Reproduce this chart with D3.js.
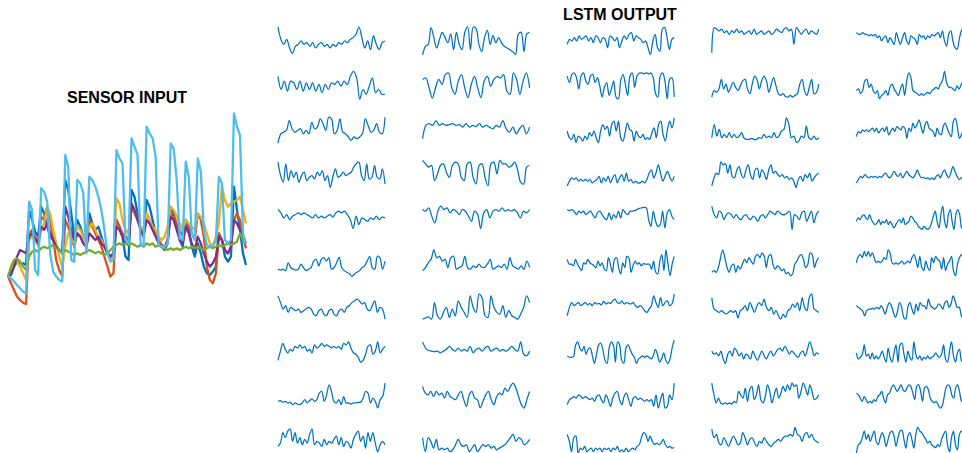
<!DOCTYPE html>
<html>
<head>
<meta charset="utf-8">
<script src="https://cdn.jsdelivr.net/npm/d3@7"></script>
<style>
  html, body { margin: 0; padding: 0; background: #fff; }
  svg { display: block; }
  .title { font-family: "Liberation Sans", Arial, Helvetica, sans-serif; font-weight: bold; font-size: 16px; fill: #000; }
</style>
</head>
<body>
<svg id="chart" width="962" height="453"></svg>
<script>
// ---- Sensor input channels (one sample every time step) ----
const sensorBlue = [14.8,15.6,20,22.6,21.7,21.7,20.8,49.5,44.3,38.2,35.6,51.2,47.7,40.8,35.6,33.9,30.4,28.6,26.9,65.1,59.9,47.7,35.6,44.3,40.8,35.6,33.9,47.7,42.5,39.1,40.8,35.6,30.4,26.9,25.2,26.9,44.3,40.8,35.6,25.2,23.4,59.9,56.4,47.7,39.1,35.6,54.7,51.2,44.3,37.3,32.1,30.4,28.6,32.1,51.2,47.7,40.8,33.9,30.4,44.3,39.1,30.4,25.2,32.1,26.9,20,16.5,15.6,17.4,20,37.3,33.9,25.2,22.6,25.2,61.6,49.5,39.1,26.9,20.8];
const sensorOrange = [14.8,11.3,7.8,4.3,2.6,1.2,0.5,37.3,39.1,35.6,32.1,46,44.3,51.2,44.3,33.9,23.4,18.2,14.8,44.3,40.8,35.6,30.4,37.3,35.6,32.1,30.4,44.3,40.8,37.3,33.9,30.4,25.2,20,14.8,16.5,44.3,40.8,37.3,35.6,33.9,51.2,47.7,44.3,40.8,37.3,47.7,44.3,40.8,37.3,33.9,31.3,30.4,33.9,47.7,46,42.5,39.1,35.6,44.3,40.8,37.3,33.9,47.7,44.3,35.6,20,13,11.3,16.5,37.3,33.9,28.6,26.9,30.4,44.3,47.7,44.3,35.6,29.5];
const sensorYellow = [14.8,18.2,21.7,22.6,20,16.5,13,33.9,35.6,33.9,30.4,39.1,42.5,51.2,47.7,39.1,32.1,25.2,20,30.4,37.3,35.6,32.1,40.8,39.1,35.6,32.1,40.8,42.5,39.1,35.6,33.9,30.4,26.9,23.4,25.2,55.6,52.9,44.3,39.1,37.3,52.9,49.5,44.3,40.8,39.1,47.7,44.3,40.8,39.1,35.6,33.9,35.6,40.8,51.2,49.5,46,42.5,39.1,44.3,42.5,40.8,39.1,47.7,46,42.5,37.3,32.1,30.4,35.6,42.5,61.6,54.7,51.2,52.9,53.8,54.7,56.4,49.5,42.5];
const sensorPurple = [14.8,16.5,20,25.2,28.6,27.8,26.9,35.6,37.3,34.7,32.1,40.8,39.1,42.5,37.3,33.9,30.4,28.6,26.9,51.2,46,39.1,33.9,37.3,35.6,32.1,30.4,37.3,35.6,33.9,35.6,32.1,30.4,26.9,25.2,26.9,40.8,39.1,35.6,32.1,31.3,52.9,49.5,44.3,39.1,35.6,44.3,42.5,39.1,35.6,32.1,30.4,29.5,33.9,46,44.3,39.1,33.9,32.1,40.8,37.3,32.1,28.6,35.6,32.1,26.9,22.6,20,21.7,25.2,35.6,33.9,28.6,26.9,30.4,44.3,42.5,39.1,35.6,32.1];
const sensorGreen = [14.8,20,23.4,24.3,22.6,20,18.2,25.2,27.8,28.6,27.8,29.5,30.4,29.5,30.4,31.3,29.5,28.6,26.9,28.6,27.8,26.9,26,26.9,26,26.9,27.8,28.6,27.8,26.9,27.8,26.9,26,26.9,28.6,30.4,31.3,32.1,31.3,32.1,31.3,32.1,31.3,30.4,31.3,30.4,32.1,31.3,32.1,30.4,31.3,30.4,29.5,28.6,29.5,28.6,29.5,28.6,29.5,30.4,29.5,30.4,29.5,30.4,29.5,28.6,29.5,30.4,29.5,30.4,31.3,30.4,31.3,32.1,31.3,32.1,33,37.3,33.9,32.1];
const sensorCyan = [14.8,13.9,12.2,10.4,8.7,6.9,6.1,53.8,49.5,18.2,15.6,60.8,59,53.8,26.9,17.4,14.8,13,12.2,78.1,72,23.4,22.6,65.1,63.4,58.2,26.9,66.8,65.1,61.6,56.4,49.5,39.1,26.9,22.6,23.4,80.7,76.4,73.8,33.9,32.1,86.8,82.5,78.1,32.1,30.4,92.9,89.4,86.8,77.3,31.3,30.4,30.4,32.1,84.2,81.6,65.1,34.7,33.9,74.7,66.8,37.3,33.9,76.4,69.4,39.1,31.3,30.4,31.3,33,66.8,63.4,33.9,32.1,33.9,99.8,92.9,88.5,37.3,32.1];

const sensorSeries = [
  { values: sensorBlue,   color: "#0072BD" },
  { values: sensorOrange, color: "#D95319" },
  { values: sensorYellow, color: "#EDB120" },
  { values: sensorPurple, color: "#7E2F8E" },
  { values: sensorGreen,  color: "#77AC30" },
  { values: sensorCyan,   color: "#4DBEEE" }
];

// ---- LSTM hidden unit activations, one row of five units at a time ----
const lstmRow1 = [
  [10,5.6,3.8,5.6,2.5,0.6,3.1,3.8,5,3.8,4.4,3.1,4.4,2.5,3.8,4.4,3.1,3.8,2.5,3.8,3.1,4.4,3.8,5,4.4,5.6,6.2,7.5,10,6.2,2.5,5,1.9,6.9,3.8,1.9,4.4,5],
  [0,3.1,3.8,9.8,6.2,2.5,5.6,8.1,6.2,4.4,7.5,1.9,8.1,3.8,1.9,8.1,10,1.9,10,9.4,3.8,1.2,6.2,8.8,3.8,6.9,4.4,6.2,4.4,3.1,2.5,1.9,1.2,0.2,7.5,8.1,1.2,7.5,8.1],
  [3.8,5.6,5,6.2,5,6.8,5.6,6.2,6.8,5,6.2,4.4,6.8,6.2,4.4,6.2,5.6,2.6,6.8,6.2,5,6.2,2.6,5,6.8,5.6,7.4,8,5,6.8,6.2,5.6,4.4,5,2.6,0.2,5,7.4,2.6,1.4,9.2,9.8,6.2,2,5.6,6.2],
  [0.8,9.8,9.2,8.6,9.2,8,8.6,7.4,8.6,8,9.2,8,8.6,7.4,8,8.6,7.4,9.2,7.4,8,8.6,7.4,8,8.6,7.4,8,9.2,8.6,8,9.2,9.8,8.6,9.2,3.8,9.8,8.6,7.4,8.6,9.2,7.4,8.6,8,7.4,9.2],
  [8,7.4,7.4,8,7.4,7.4,6.8,7.4,6.8,7.4,6.2,6.8,5,6.2,6.8,4.4,6.2,5,3.8,8,5.6,3.8,6.2,8,5,3.8,6.8,6.2,5.6,3.8,7.4,6.2,6.8,5.6,6.8,6.2,7.4,6.8,7.4,8,6.2,8.6,5,3.2,7.4,8.6,5,2.6,2,5.6,8.6,9.8]
];
const lstmRow2 = [
  [8.2,3.5,6.5,2.9,6.5,5.9,3.5,6.5,2.9,5.9,3.5,5.9,2.9,5.3,2.4,5.3,3.5,5.9,5.3,6.5,4.7,6.5,5.3,8.2,10,7.6,0,3.5,1.8,4.7,7.6,2.4,3.5,1.8,1.8],
  [7.1,7.6,4.1,0.4,4.1,7.1,5.3,8.8,9.4,4.1,1.8,6.5,8.8,4.1,0.6,5.3,8.2,4.1,0.6,6.5,8.2,4.7,7.1,8.2,7.6,8.8,2.9,1.8,9.4,7.1,1.8,6.5,9.4,4.1],
  [8.3,6,8.9,9.4,7.7,3.7,8.3,9.4,6.6,5.4,8.3,8.9,6,7.7,4.8,0.8,4.3,6,1.4,3.7,6.6,0.8,0.2,6.6,8.9,5.4,1.4,8.3,9.4,4.3,8.3,9.4,9.4,9.1,9.4,9.1,9.4,7.7,2,0.8,8.3,9.4,6.6,0.2,7.1,7.7,0.8],
  [0.8,3.1,2.5,3.7,7.1,3.7,5.4,2.5,4.3,6,4.3,3.1,4.8,6.6,7.1,3.7,2,5.4,8.3,7.1,3.7,6.6,8.3,6.6,2.5,5.4,7.7,4.8,2,1.4,2,1,0.8,1.4,0.8,1.4,2,5.4,7.1,3.1,1.4,4.3,7.1,2,2.5,5.4],
  [3.1,3.7,2,3.1,6.6,7.1,4.3,5.4,3.1,2,3.1,0.2,1.4,2,3.1,1.4,4.3,5.4,3.7,2.5,1.4,3.7,5.4,1.4,6.6,9.4,7.7,3.1,2.5,2,1.4,2,1.4,2,2.5,2,3.1,3.7,4.3,3.7,5.4,6.6,10,6,4.3,4.3,3.7,3.1,4.8,3.7,5.4,6.6]
];
const lstmRow3 = [
  [0.2,3.5,4.1,4.7,8.2,5.3,4.1,4.7,5.3,3.5,4.7,3.5,7.6,5.3,5.9,8.8,7.1,4.7,9.4,8.8,3.5,4.7,8.8,4.1,3.5,2.4,1.2,2.4,1.8,2.4,3.5,8.8,6.5,4.1,4.7,7.1,4.1,3.5,9.4],
  [1.8,6.5,7.1,6.5,8.2,6.5,7.1,6.5,6.8,7.1,6.5,6.8,5.9,7.1,5.9,6.5,6.1,7.1,5.9,6.5,5.9,5.3,6.5,5.9,8.2,5.3,4.1,5.9,3.5,5.3,6.5,3.5,5.9],
  [4.5,2.1,1.5,3.3,0.4,2.7,2.1,0.9,2.7,1.5,3.9,2.7,4.5,2.1,0.4,4.5,6.8,5.1,6.2,2.7,6.8,8,4.5,8,2.1,0.9,3.9,7.4,5.1,4.5,0.9,4.5,2.7,2.1,3.3,1.5,2.1,1.5,3.9,5.6,2.1,6.8,8,3.3,0.9,5.1,8,5.6,9.2],
  [2.1,6.8,2.7,5.1,2.1,3.3,2.1,3.9,2.1,3.3,2.1,2.7,3.9,1.9,1.5,1.5,1.9,1.5,1.5,2.1,1.9,3.3,2.1,2.7,2.1,3.9,2.1,2.7,4.5,5.1,9.2,6.8,2.1,2.7,0.4,0.9,2.7,2.1,6.2,2.1,1.5,2.7,1.5,2.1],
  [2.5,4.3,3.7,4.9,4.3,4.9,4.3,4.9,5.5,4.3,5.5,3.7,4.9,5.5,4.3,6.1,3.1,4.3,5.5,4.3,6.1,5.5,4.9,6.1,5.5,1.9,5.5,4.3,7.3,5.5,6.7,8.5,6.1,3.7,6.7,7.9,5.5,4.9,4.3,2.5,5.5,3.7,3.1,6.1,7.3,5.5,3.7,2.5,7.9,9,6.1,1.9,3.1,4.9]
];
const lstmRow4 = [
  [9.2,4.4,2,8.6,2.6,6.2,3.8,5.6,2,4.4,5.6,2.6,3.8,4.4,3.2,5.6,4.4,6.2,2.6,4.4,0.2,3.8,6.8,3.8,4.4,5.6,4.4,5,5.6,7.4,8.6,9.2,4.4,2.6,8.6,3.2,3.8,8,3.8,3.2,6.8,1.4],
  [9.8,8.6,7.4,8,2.6,5,8,8.6,5.6,3.8,8,9.2,8.6,3.8,2.6,8.6,9.2,3.8,1.4,8,8.6,3.8,0.8,8.6,9.2,5,9.8,8.6,8.6,7.4,8,9.2,6.2,2,1.4,7.4,8],
  [0.7,2.4,3.6,3,3.6,2.4,3,2.4,3,2.4,3,1.8,2.4,3,4.1,1.8,3.6,2.4,4.1,1.8,3.6,4.7,1.8,3.6,4.7,2.4,5.3,2.4,3,1.8,2.4,1.8,1.8,2.4,1.8,3,5.3,6.4,3.6,5.3,8.2,5.3,2.4,4.1,5.9,4.1,2.4,4.1],
  [0.7,3.6,5.3,4.7,9.3,8.2,8.7,5.3,8.2,4.1,3.6,6.4,7.6,4.7,3.6,6.4,8.2,4.7,3,6.4,7,3.6,6.4,5.3,3,6.4,8.2,5.3,5.9,4.7,4.1,4.7,3.6,4.1,3,3.6,2.4,0.1,3,4.1,2.4,4.7,3.6,5.3,2.4,3.6,4.7,5.3],
  [1.8,3,4.1,3.6,4.7,4.1,3.6,4.1,3.8,4.1,3.6,4.1,3.8,4.7,5.3,4.1,3.6,4.7,5.9,4.7,4.1,5.3,3.6,4.7,5.9,4.7,4.1,3.6,4.7,6.4,4.7,3.6,3.8,3.3,3.6,3,3.6,3,4.1,4.7,3.6,5.3,6.4,4.7,3.6,5.3,7.6,5.9,4.1,3,3.6,4.1]
];
const lstmRow5 = [
  [8.1,6.9,5.1,6.3,4.5,5.7,6.3,6.9,6.3,6.9,6.3,5.7,5.1,6.3,5.1,5.7,5.1,5.7,6.3,5.4,6.9,7.5,6.9,7.5,6.3,4.5,1.3,5.7,2.7,5.1,4.5,3.9,5.1,4.5,5.7,4.5,5.4,5.1],
  [8.1,7.5,8.7,5.7,3.3,7.5,9.3,8.1,8.7,6.9,8.1,7.5,6.3,8.1,7.5,5.7,3.9,7.5,6.3,1.3,6.9,8.1,5.1,7.5,8.1,7.5,8.7,7.5,8.1,7.5,8.1,6.9,5.1,7.5,6.9,8.1],
  [8.1,7.7,8.1,7.5,6.3,7.5,6.9,7.5,6.3,6.9,7.5,6.3,5.1,6.9,7.5,6.3,5.1,4.5,6.9,4.5,6.3,5.1,7.5,5.1,8.1,6.9,6.3,7.5,7.5,7.7,8.1,8.5,8.7,8.9,8.7,4.5,2.1,7.5,3.9,2.1,2.7,7.5,1.5,6.9,8.1,5.7,4.5],
  [9.3,6.3,5.1,7.5,6.9,4.5,6.3,6.9,6.3,5.1,6.3,5.1,4.5,5.7,6.3,5.1,4.5,5.7,5.1,3.9,5.7,6.3,5.1,6.3,7.5,6.9,6.3,7.5,6.9,6.3,6.3,6.9,7.5,1,6.3,5.7,4.5,6.9,7.5,3.9,5.7,7.5,3.3,6.3,7.5],
  [3.9,5.1,4.5,5.7,6.3,5.1,4.5,6.3,4.5,3.3,2.7,3.3,4.5,2.7,3.9,3.3,4.5,2.7,3.9,2.7,1.5,2.7,3.9,4.5,3.3,5.1,2.7,3.3,3.9,5.7,5.1,3.9,3.3,2.1,1.5,1,2.1,1.5,1,1.5,3.3,5.7,7.5,3.9,1.5,6.3,9.3,3.9,1.5,6.3,8.1,3.9,1,6.3,8.1,6.3,1.5,5.1]
];
const lstmRow6 = [
  [2.6,2.3,2.6,2.1,4.9,3.2,2.6,2.3,2.6,4.4,3.2,2.1,2.6,3.2,5.5,6.1,3.8,6.1,6.7,5.5,6.7,2.6,3.2,4.9,6.9,3.2,2.1,1.5,1.1,0,0.9,1.5,2.1,3.2,3.8,5.5,7.2,3.2,2.6,7.2,6.7,2.6,5.5],
  [2.1,3.2,4.9,6.1,9.5,6.7,7.2,5.5,6.1,3.2,6.7,7.2,2.6,3.2,3.8,7.2,3.2,2.6,3.8,3.2,4.4,3.4,3.2,4.4,6.1,2.6,3.2,3.8,3.2,4.4,2.6,6.7,3.8,3.2,2.6,3.8,2.6,5.5,3.2],
  [6.1,4.4,4.4,3.8,6.1,4.4,3.2,2.1,4.9,4.4,6.1,4.9,4.4,3.8,3.2,5.5,3.8,4.9,2.6,2.1,6.7,4.4,1.5,6.1,6.7,3.2,0.9,4.9,3.2,7.2,6.7,1.5,3.8,5.5,4.4,4.9,3.8,4.6,4.4,4.4,4.4,2.6,5.5,1.5,0.9,5.5,7.8,2.1,9.5,4.4,0.3,4.4,7.2],
  [1.5,2.1,1.5,3.2,6.7,9.5,6.7,3.2,1.5,3.8,4.4,1.5,3.8,2.6,4.4,6.1,4.9,6.7,5.5,4.4,7.2,7.8,6.7,8.4,7.2,3.2,7.2,7.8,4.4,2.6,3.8,3.2,2.1,2.6,0.9,1.5,0.3,0.9,4.4,5.5,7.2,7.8,6.1,3.2,4.4,8.4,7.8,3.2,5.5,6.7],
  [4.9,7.2,7.8,6.7,9,7.2,9,7.2,8.4,6.7,4.9,5.5,4.9,5.5,6.7,6.1,9.5,8.4,4.9,4.4,4.9,4.4,4.9,5.5,4.4,4.9,5.5,4.9,6.7,7.8,6.1,3.2,7.2,3.2,2.1,5.5,3.2,2.1,6.7,4.9,7.2,6.1,5.5,2.6,6.7,2.1,4.4,5.5,7.2,2.1,0.3,4.4,6.7,7.8,6.1]
];
const lstmRow7 = [
  [8.9,6.5,4.2,5.4,3,4.8,4.2,3.6,4.2,3,3.6,4.2,4.8,4.2,2.4,1.8,3.6,4.2,2.4,1.8,3.6,4.2,2.4,1.8,3.6,4.2,3,4.8,5.4,6.5,7.1,7.7,7.1,6,6.5,4.2,3.6,5.4,7.1,3,4.8,4.2,0.6],
  [0.6,1,1.4,0.6,6.5,1.8,0.6,3,4.8,1.2,4.2,1.8,7.1,4.8,3,1.2,8.9,4.8,3,9.5,8.3,1.8,1.2,8.9,4.8,3,2.4,5.4,1.2,3.6,1.8,1.2,0.6,2.4,4.8,8.9,6.5],
  [1.8,4.8,6.5,5.4,6,6.5,5.4,6,6.5,5.7,6.2,5.4,6.5,6,6.2,5.7,6.9,6,6.5,6.2,7.1,7.7,6.5,6.2,7.1,6,6.5,6.2,6,6.5,5.4,4.8,5.4,4.8,3.6,3,4.2,5.4,8.9,6.5,4.8,8.3,5.4,6.5,7.1,5.4,6,9.5],
  [8.3,4.2,3.6,3,3.6,3,2.4,3,3.6,3,3.6,1,3.6,4.2,5.4,3.6,6.5,4.8,3,5.4,6.5,5.4,7.7,4.8,3.6,4.8,2.4,3.6,1.8,0.6,2.4,1.2,3.6,4.2,6,4.8,6.5,3.6,8.3,4.8,3.6,8.3,9.5,4.2,3.6,3],
  [5.4,4.8,4.2,3.6,1.8,3.6,4.2,4.2,4.5,4.2,4.8,4.2,5.4,4.2,2.4,4.8,6.5,5.4,3,1.2,3.6,6.5,4.8,1.2,0.6,4.8,6.5,4.2,2.4,6,3.6,6.5,5.4,5.4,4.2,7.7,5.4,4.8,4.2,4.8,6,5.4,4.2,6.5,7.1,4.8,6,8.9,7.1,4.8,4.8,1.8,0.6]
];
const lstmRow8 = [
  [1.7,5,7.8,5.6,4.4,5.6,5,6.7,6.1,7.2,6.1,6.7,5,5.6,4.4,7.2,6.1,6.7,7.8,6.7,7.2,6.7,6.1,6.7,6.1,6.7,5.6,7.8,7.2,8.3,6.1,4.4,3.9,2.8,1.1,1.7,3.9,6.7,7.2,3.9,5,8.3,4.4,5.6,6.7],
  [8.3,6.1,5.2,5,4.8,5,4.4,5,5.6,6.7,5.6,5,6.1,5,5.6,5,6.7,4.4,5.6,6.1,5,6.1,6.7,5,5.6,6.1,5,5.6,5,5.6,6.7,5.6,5,8.3,3.9,3.3,5],
  [3.3,2.8,2.8,3,7.2,8.3,6.1,5,6.7,3.9,5.6,6.1,3.3,0.6,3.9,7.2,7.8,5.6,1.7,0.6,6.1,8.3,7.2,1.1,8.3,7.2,1.7,0.6,6.1,7.2,5.6,3.9,2.8,0.6,2.2,2.8,3.3,2.8,3.3,2.8,2.2,3.3,5.6,3.9,1.1,2.2,4.4,1.7,0.6,2.2,6.1,8.9],
  [5,3.9,4.4,3.3,5,2.2,0.6,3.9,5,3.3,6.1,5,3.3,4.4,2.2,3.9,3.3,2.2,5,3.3,1.7,3.3,5,3.3,2.2,3.9,5,3.3,4.4,5.6,6.1,5,6.7,5.6,3.9,5,4.4,3.3,2.8,4.4,5,3.3,5.6,8.3,6.1,3.3,4.4,3.9],
  [4.4,2.2,2.8,3.9,7.2,3.3,3.9,2.2,4.4,2.2,3.3,2.2,3.3,5,2.8,1.1,6.1,2.8,1.1,4.4,7.2,1.1,7.2,7.8,3.9,1.1,5,2.8,1.7,8.3,3.9,2.2,3.3,1.7,2.8,2.2,3.3,2.2,2.8,3.3,4.4,3.3,2.8,3.9,7.2,2.2,1.1,5,8.3,3.3,1.1,4.4,5.6,1.7,1.1]
];
const lstmRow9 = [
  [2.9,3.1,2.6,2.9,2.3,2.6,1.7,2.3,1.9,1.7,2.3,3.5,2.3,3.1,3.8,2.9,3.5,5.8,6.4,2.9,5.2,8.8,6.4,2.9,2.3,3.5,1.7,4.6,2.3,2.3,1.9,2.3,2.3,2.5,2.6,4,6.4,5.8,2.3,4,2.9,0.5,3.5,4.6,9.4],
  [8.2,5.8,5.2,6.4,4.6,6.4,5.2,5.8,4,6.4,4.6,4,3.5,5.2,6.4,3.5,1.1,5.2,6.4,4,3.5,0.5,2.9,5.2,6.4,3.5,1.7,4.6,5.8,5.2,7.6,6.4,8.2,9.4,7.6,4.6,1.7,0.5,3.5,6.4],
  [1.7,3.5,4,4.6,4,5.2,4.6,4,4.6,4,3.5,4,2.9,4.6,5.2,3.5,2.3,5.2,3.5,1.1,4,5.8,6.4,3.5,1.7,4.6,5.8,3.5,1.1,4,4.6,3.5,4,3.5,2.9,3.5,2.9,3.5,1.1,5.2,0.5,3.5,5.8,0.5,1.1,5.2,3.5,9.4],
  [9.4,5.2,2.3,4,2.3,1.9,2.3,1.9,2.3,1.9,2.9,2.3,6.4,5.2,4,7.6,2.9,7,8.2,3.5,5.2,8.8,3.5,2.3,4.6,8.8,6.4,2.3,5.2,7.6,4,5.8,8.2,6.4,8.8,7,9.4,8.2,8.8,4,6.4,9.4,7.6,5.2,8.8,6.4,3.5,4,5.2],
  [5.8,5.2,4,2.9,4.6,3.5,2.3,2.9,2.3,3.5,2.9,4.6,5.2,6.4,4,2.3,5.2,5.8,7.6,8.8,7.6,6.4,7.6,8.8,7,6.4,7.6,8.8,8.2,5.8,3.5,8.2,8.8,6.4,2.9,7.6,8.2,7,4,2.9,2.3,2.9,1.7,0.5,1.1,4,7.6,8.8,8.2,5.2,4,7.6,8.8,6.4,2.9,6.4]
];
const lstmRow10 = [
  [2.6,3.8,7.5,5.7,8.1,8.8,4.4,7.5,3.8,5.7,3.2,5.1,3.8,6.9,8.8,3.2,4.4,3.8,2.6,5.1,3.2,4.4,3.8,5.1,6.3,3.2,5.7,2.6,4.4,3.8,2,5.1,6.9,8.1,4.4,6.3,2,7.5,4.4,7.5,3.8,0.7,3.2,4.4,3.2],
  [5.7,0.7,5.7,4.4,2,5.1,1.4,2,1.4,2,0.7,1.4,3.2,5.1,3.2,2.6,3.2,0.7,2,3.2,0.7,2,3.2,2.6,3.2,2,2.6,1.4,2,2.6,3.2,4.4,5.7,6.9,4.4,5.7,5.1,3.2,3.8,5.1],
  [6.9,4.4,0.7,5.7,6.3,0.1,2,1.4,2.6,0.7,1.4,2,0.7,2,1.4,2,0.7,2,1.4,2,0.7,2,1.4,2.6,0.7,1.4,0.7,2,0.7,1.4,2,1.4,2.6,3.2,5.7,7.5,6.9,4.4,6.3,4.4,3.2,3.8,3.2,3.8,5.1,3.2,2.2,2.6,2,2.2],
  [8.8,5.7,6.9,3.8,3.2,5.7,4.4,2.6,4.4,6.3,5.1,3.2,3.8,7.5,5.7,3.2,5.1,5.7,3.8,2.6,4.4,3.8,5.7,4.4,3.2,2.6,3.8,4.4,5.1,4.4,5.7,6.3,6.3,6.9,6.3,9.4,6.9,6.3,4.4,6.9,7.5,5.7,6.9,5.1,4.4,3.8],
  [0.1,3.2,3.8,5.7,8.1,5.1,6.9,4.4,6.3,8.1,4.4,3.2,5.7,7.5,5.7,2.6,5.1,7.5,8.1,6.3,2.6,5.7,8.1,8.4,5.1,2,6.3,7.5,5.1,2,6.9,9.4,8.1,7.5,6.3,5.1,3.8,4.4,3.2,2.6,2.2,3.2,2.6,5.1,6.9,8.1,3.2,0.7,5.7,8.1,3.2,1.4,6.9,8.1,6.9]
];

const lstmRows = [lstmRow1, lstmRow2, lstmRow3, lstmRow4, lstmRow5,
                  lstmRow6, lstmRow7, lstmRow8, lstmRow9, lstmRow10];

const svg = d3.select("#chart");

// ---- Left panel: raw sensor channels ----
const sensorX = d3.scaleLinear().domain([0, sensorBlue.length - 1]).range([8, 246]);
const sensorY = d3.scaleLinear().domain([0, 100]).range([305, 113]);
const sensorLine = d3.line().x((d, i) => sensorX(i)).y(d => sensorY(d));

svg.append("text").attr("class", "title")
  .attr("x", 127).attr("y", 103).attr("text-anchor", "middle")
  .text("SENSOR INPUT");

svg.append("g").selectAll("path")
  .data(sensorSeries)
  .join("path")
  .attr("fill", "none")
  .attr("stroke", d => d.color)
  .attr("stroke-width", 2.3)
  .attr("stroke-linejoin", "round")
  .attr("d", d => sensorLine(d.values));

// ---- Right panel: grid of LSTM unit traces ----
svg.append("text").attr("class", "title")
  .attr("x", 620).attr("y", 20).attr("text-anchor", "middle")
  .text("LSTM OUTPUT");

const colBand = d3.scaleBand().domain(d3.range(5)).range([278, 963.4]).paddingInner(0.26);
const rowBand = d3.scaleBand().domain(d3.range(10)).range([27, 453.7]).paddingInner(0.368);
const unitY = d3.scaleLinear().domain([0, 10]).range([rowBand.bandwidth(), 0]);

lstmRows.forEach((row, r) => {
  row.forEach((values, c) => {
    const unitX = d3.scaleLinear().domain([0, values.length - 1]).range([0, colBand.bandwidth()]);
    const line = d3.line()
      .x((d, i) => unitX(i))
      .y(d => unitY(d))
      .curve(d3.curveCatmullRom.alpha(0.5));
    svg.append("g")
      .attr("transform", `translate(${colBand(c)},${rowBand(r)})`)
      .append("path")
      .attr("fill", "none")
      .attr("stroke", "#0072BD")
      .attr("stroke-width", 1.25)
      .attr("stroke-linejoin", "round")
      .attr("d", line(values));
  });
});
</script>
</body>
</html>
